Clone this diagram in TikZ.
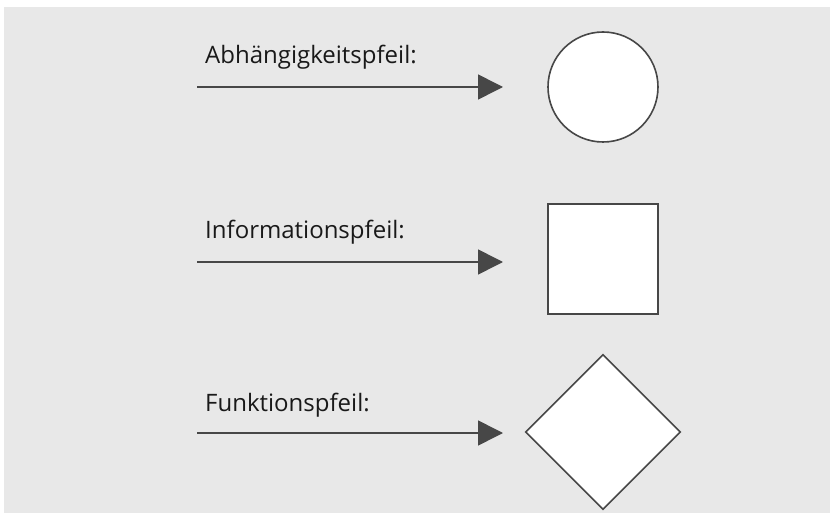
\documentclass[tikz,border=0pt]{standalone}
\usepackage{fontspec}
\setmainfont{Open Sans}
\usetikzlibrary{arrows.meta,shapes.geometric}
\definecolor{bggray}{HTML}{E8E8E8}
\definecolor{ink}{HTML}{474747}
\begin{document}
\begin{tikzpicture}[x=1pt,y=-1pt,
  pfeil/.style={draw=ink,line width=1.6pt,-{Triangle[length=25pt,width=25pt,fill=ink]}},
  beschriftung/.style={anchor=base west,inner sep=0pt,font=\fontsize{24}{28}\selectfont,text=black!90},
  symbol/.style={draw=ink,line width=1.6pt,fill=white,inner sep=0pt}
]
\useasboundingbox (0,0) rectangle (830,513);
\fill[bggray] (4,7) rectangle (830,513);

% Abhaengigkeitspfeil mit Kreis
\node[beschriftung] (t1) at (205,64) {Abhängigkeitspfeil:};
\coordinate (a1) at (197,87);
\coordinate (b1) at (503,87);
\draw[pfeil] (a1) -- (b1);
\node[symbol,circle,minimum size=110pt] (kreis) at (603,87) {};

% Informationspfeil mit Quadrat
\node[beschriftung] (t2) at (205,239) {Informationspfeil:};
\coordinate (a2) at (197,262);
\coordinate (b2) at (503,262);
\draw[pfeil] (a2) -- (b2);
\node[symbol,rectangle,minimum size=110pt] (quadrat) at (603,259) {};

% Funktionspfeil mit Raute
\node[beschriftung] (t3) at (205,411) {Funktionspfeil:};
\coordinate (a3) at (197,433);
\coordinate (b3) at (503,433);
\draw[pfeil] (a3) -- (b3);
\node[symbol,diamond,minimum size=155pt] (raute) at (603,432) {};
\end{tikzpicture}
\end{document}
